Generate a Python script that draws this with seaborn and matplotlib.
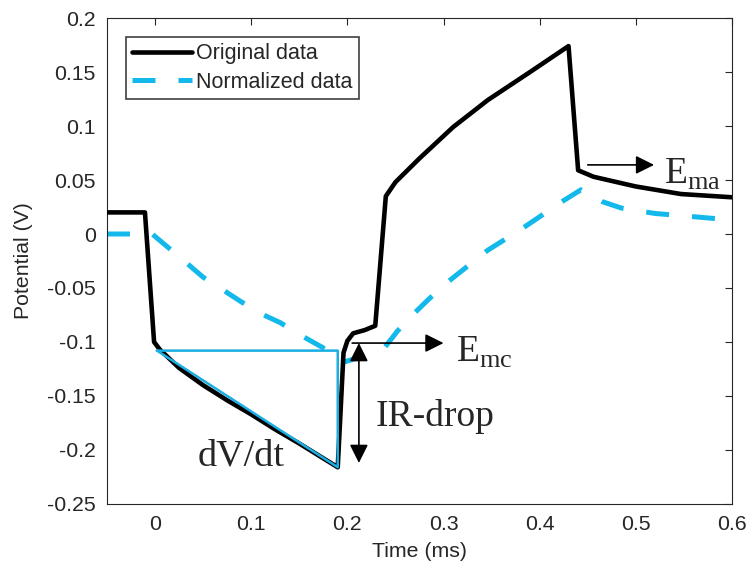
import numpy as np
import pandas as pd
import matplotlib
matplotlib.use("Agg")
import matplotlib.pyplot as plt
from matplotlib.ticker import FuncFormatter
import seaborn as sns

sns.set_theme(style="white")
plt.rcParams["font.family"] = ["Liberation Sans", "DejaVu Sans"]
plt.rcParams["axes.unicode_minus"] = False
plt.rcParams["mathtext.fontset"] = "custom"
plt.rcParams["mathtext.rm"] = "Liberation Serif"

# original potential trace (ms, V)
t_orig = [-0.05, -0.0105, -0.001, 0.005, 0.025, 0.05, 0.075, 0.1, 0.125, 0.15,
          0.17, 0.19, 0.196, 0.2, 0.206, 0.218, 0.229, 0.24, 0.25, 0.275,
          0.31, 0.346, 0.39, 0.43, 0.44, 0.456, 0.5, 0.547, 0.6]
v_orig = [0.02, 0.02, -0.1, -0.107, -0.124, -0.14, -0.154, -0.167, -0.181, -0.194,
          -0.205, -0.216, -0.11, -0.099, -0.092, -0.089, -0.085, 0.035, 0.048, 0.07,
          0.099, 0.124, 0.15, 0.174, 0.059, 0.053, 0.044, 0.037, 0.034]

# normalized trace
t_norm = [-0.05, -0.003, 0.013, 0.033, 0.05, 0.071, 0.09, 0.113, 0.13, 0.154,
          0.174, 0.195, 0.206, 0.225, 0.238, 0.252, 0.27, 0.285, 0.305, 0.346,
          0.38, 0.4, 0.425, 0.443, 0.465, 0.485, 0.52, 0.56, 0.6]
v_norm = [0.0, 0.0, -0.012, -0.027, -0.04, -0.052, -0.063, -0.075, -0.082, -0.095,
          -0.105, -0.119, -0.116, -0.112, -0.106, -0.09, -0.073, -0.06, -0.044, -0.015,
          0.004, 0.016, 0.031, 0.041, 0.03, 0.024, 0.019, 0.016, 0.013]

# dV/dt triangle
tri_t = [0.002, 0.19, 0.19, 0.002]
tri_v = [-0.108, -0.108, -0.216, -0.108]

x_ticks = [0, 0.1, 0.2, 0.3, 0.4, 0.5, 0.6]
y_ticks = [-0.25, -0.2, -0.15, -0.1, -0.05, 0, 0.05, 0.1, 0.15, 0.2]

cyan = "#14B9EC"

fig = plt.figure(figsize=(7.48, 5.74), dpi=100)
ax = fig.add_axes([0.143, 0.122, 0.8356, 0.8466])

df_o = pd.DataFrame({"t": t_orig, "v": v_orig})
df_n = pd.DataFrame({"t": t_norm, "v": v_norm})
sns.lineplot(data=df_o, x="t", y="v", ax=ax, color="black", lw=3.3,
             estimator=None, sort=False, label="Original data", zorder=3)
sns.lineplot(data=df_n, x="t", y="v", ax=ax, color=cyan, lw=3.6,
             estimator=None, sort=False, label="Normalized data", zorder=2)
ax.lines[-1].set_dashes((4.6, 4.6))
ax.lines[-1].set_dash_capstyle("butt")

ax.plot(tri_t, tri_v, color="#1AAEE3", lw=1.8, zorder=4)

arrow = dict(arrowstyle="-|>", color="black", lw=1.2, mutation_scale=28,
             shrinkA=0, shrinkB=0)
ax.annotate("", xy=(0.3, -0.101), xytext=(0.205, -0.101), arrowprops=arrow)
ax.annotate("", xy=(0.519, 0.064), xytext=(0.45, 0.064), arrowprops=arrow)
ax.annotate("", xy=(0.212, -0.101), xytext=(0.212, -0.212),
            arrowprops=dict(arrow, arrowstyle="<|-|>"))

serif = "Liberation Serif"
ax.text(0.3125, -0.1185, r"$\mathrm{E}_{\mathrm{mc}}$", fontsize=27, ha="left", va="baseline")
ax.text(0.529, 0.047, r"$\mathrm{E}_{\mathrm{ma}}$", fontsize=27, ha="left", va="baseline")
ax.text(0.229, -0.169, "IR-drop", family=serif, fontsize=27, ha="left", va="center")
ax.text(0.044, -0.206, "dV/dt", family=serif, fontsize=27.5, ha="left", va="center")

ax.set_xlim(-0.05, 0.6)
ax.set_ylim(-0.25, 0.2)
ax.set_xticks(x_ticks)
ax.set_yticks(y_ticks)
fmt = FuncFormatter(lambda v, p: f"{v:g}")
ax.xaxis.set_major_formatter(fmt)
ax.yaxis.set_major_formatter(fmt)
ax.tick_params(direction="in", length=5, width=0.8, colors="#262626",
               labelsize=15.3, top=True, right=True, pad=8)
for s in ax.spines.values():
    s.set_visible(True)
    s.set_color("#262626")
    s.set_linewidth(0.8)

ax.set_xlabel("Time (ms)", fontsize=15.3, color="#262626", labelpad=6)
ax.set_ylabel("Potential (V)", fontsize=15.3, color="#262626", labelpad=10)

leg = ax.legend(loc="upper left", bbox_to_anchor=(0.03, 0.961), borderaxespad=0,
                fontsize=15.5, handlelength=2.8, handletextpad=0.15,
                labelspacing=0.35, borderpad=0.3, fancybox=False, framealpha=1)
leg.get_frame().set_edgecolor("#404040")
leg.get_frame().set_linewidth(1.2)

fig.savefig("out.png", dpi=100)
